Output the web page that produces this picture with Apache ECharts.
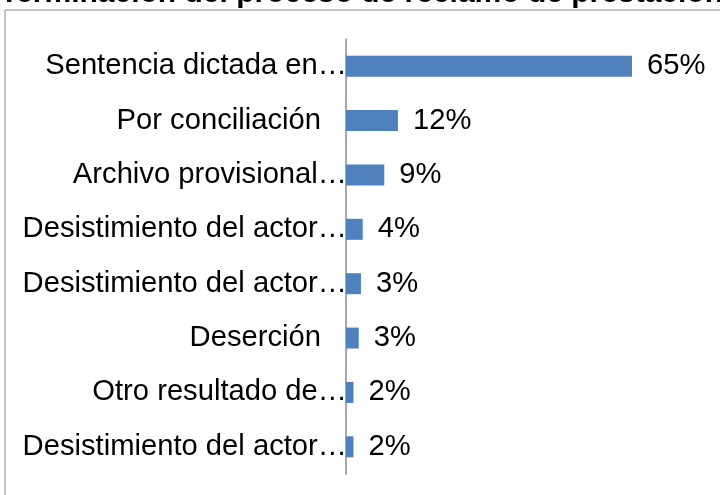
<!DOCTYPE html>
<html><head><meta charset="utf-8">
<script src="https://cdn.jsdelivr.net/npm/echarts@6/dist/echarts.min.js"></script>
<style>html,body{margin:0;padding:0;background:#fff}#c{width:720px;height:495px}</style>
</head><body><div id="c"></div>
<script>
const titleText = 'Terminación del proceso de reclamo de prestaciones';
const categories = [
  'Sentencia dictada en…',
  'Por conciliación',
  'Archivo provisional…',
  'Desistimiento del actor…',
  'Desistimiento del actor…',
  'Deserción',
  'Otro resultado de…',
  'Desistimiento del actor…'
];
const values = [65, 11.8, 8.7, 3.8, 3.4, 2.9, 1.7, 1.7];

const FONT = '"Liberation Sans", Arial, sans-serif';
const FS = 29.2;
const chart = echarts.init(document.getElementById('c'), null, {renderer: 'canvas'});
chart.setOption({
  backgroundColor: '#fff',
  animation: false,
  graphic: [
    {type: 'rect', shape: {x: 5, y: 10, width: 800, height: 600}, style: {fill: 'none', stroke: '#8a8a8a', lineWidth: 1}, z: 0},
    {type: 'text', x: 0, y: -6, style: {text: titleText, font: 'bold 30px ' + FONT, fill: '#000', textVerticalAlign: 'middle'}, z: 10}
  ],
  grid: {left: 346, right: 22, top: 39, bottom: 21, containLabel: false},
  xAxis: {type: 'value', min: 0, max: 80, show: false},
  yAxis: {
    type: 'category', data: categories, inverse: true,
    axisLine: {show: true, lineStyle: {color: '#8a8a8a', width: 1.5}},
    axisTick: {show: false},
    axisLabel: {
      margin: -1, color: '#000', fontSize: FS, fontFamily: FONT,
      formatter: v => v.endsWith('…') ? '{e|' + v + '}' : '{n|' + v + '}',
      rich: {
        e: {fontSize: FS, fontFamily: FONT, color: '#000'},
        n: {fontSize: FS, fontFamily: FONT, color: '#000', padding: [0, 26, 0, 0]}
      }
    }
  },
  series: [{
    type: 'bar', data: values, barWidth: 21,
    itemStyle: {color: '#4f81bd'},
    label: {show: true, position: 'right', distance: 15, color: '#000', fontSize: FS, fontFamily: FONT,
      formatter: p => Math.round(p.value) + '%'}
  }]
});
</script></body></html>
